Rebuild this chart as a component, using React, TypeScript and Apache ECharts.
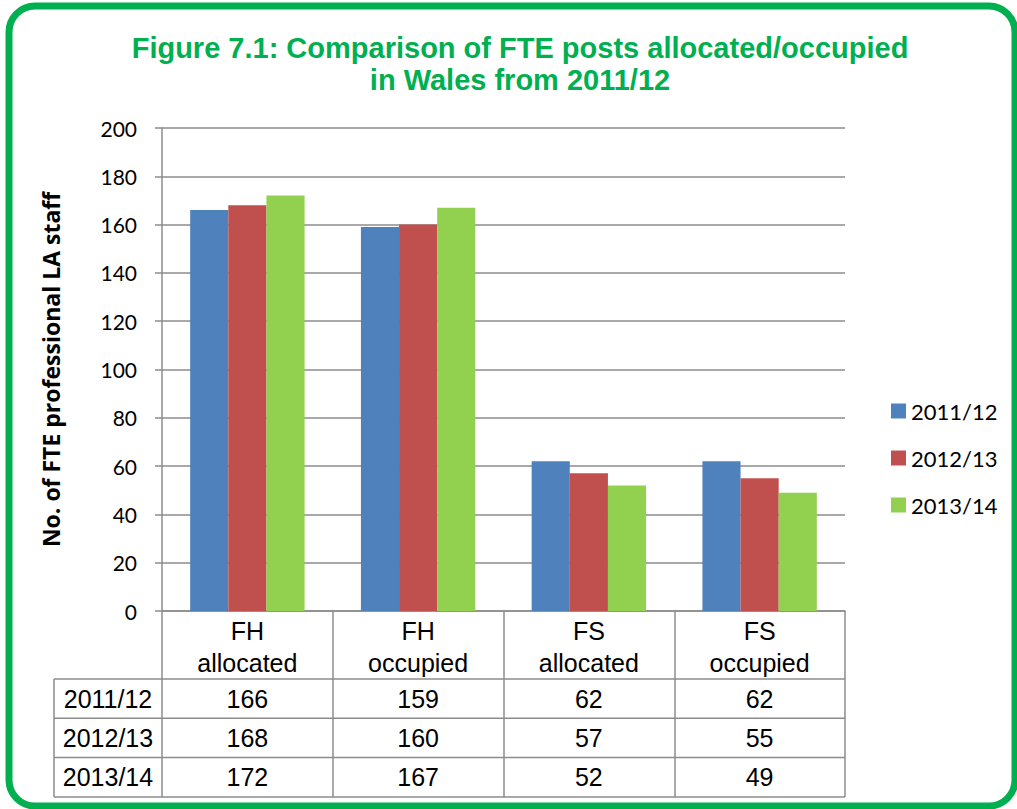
import React, { useEffect, useRef } from "react";
import * as echarts from "echarts";

const categories = ["FH\nallocated", "FH\noccupied", "FS\nallocated", "FS\noccupied"];
const seriesNames = ["2011/12", "2012/13", "2013/14"];
const values2011 = [166, 159, 62, 62];
const values2012 = [168, 160, 57, 55];
const values2013 = [172, 167, 52, 49];
const colors = ["#4F81BD", "#C0504D", "#92D050"];
const yTicks = { min: 0, max: 200, interval: 20 };

const W = 1017;
const H = 809;
const GRID_LEFT = 162;
const GRID_RIGHT_X = 845;
const GRID_TOP = 128;
const AXIS_Y = 611;
const HEADER_BOTTOM = 679;
const ROW_H = 39.3;
const TABLE_LEFT = 54;
const LINE_COLOR = "#8c8c8c";
const ARIAL = "'Liberation Sans', Arial, sans-serif";
const CAL = "Lato, 'Open Sans', sans-serif";

export default function App() {
  const ref = useRef<HTMLDivElement>(null);
  useEffect(() => {
    document.body.style.margin = "0";
    const chart = echarts.init(ref.current!, null, { renderer: "svg" });
    const allValues = [values2011, values2012, values2013];
    const tableBottom = HEADER_BOTTOM + ROW_H * 3;
    chart.setOption({
      animation: false,
      backgroundColor: "#fff",
      title: {
        text: "Figure 7.1: Comparison of FTE posts allocated/occupied\nin Wales from 2011/12",
        left: 515,
        top: 27,
        textAlign: "center",
        textStyle: {
          color: "#00B050",
          fontFamily: ARIAL,
          fontWeight: "bold",
          fontSize: 29,
          lineHeight: 32,
        },
      },
      legend: {
        orient: "vertical",
        left: 886,
        top: 395,
        itemWidth: 15,
        itemHeight: 15,
        itemGap: 25,
        icon: "rect",
        data: seriesNames,
        textStyle: { fontFamily: CAL, fontSize: 22, lineHeight: 22, color: "#000" },
      },
      grid: {
        left: GRID_LEFT,
        right: W - GRID_RIGHT_X,
        top: GRID_TOP,
        bottom: H - AXIS_Y,
        containLabel: false,
      },
      xAxis: {
        type: "category",
        data: categories,
        axisLine: { show: true, lineStyle: { color: LINE_COLOR, width: 1.5 } },
        axisTick: {
          show: true,
          alignWithLabel: false,
          length: tableBottom - AXIS_Y,
          lineStyle: { color: LINE_COLOR, width: 1.5 },
        },
        axisLabel: {
          interval: 0,
          margin: 4,
          color: "#000",
          fontFamily: ARIAL,
          fontSize: 25,
          lineHeight: 32,
        },
      },
      yAxis: {
        type: "value",
        min: yTicks.min,
        max: yTicks.max,
        interval: yTicks.interval,
        name: "No. of FTE professional LA staff",
        nameLocation: "middle",
        nameGap: 100,
        nameTextStyle: { fontFamily: "'Open Sans', Lato, sans-serif", fontWeight: "bold", fontSize: 23, color: "#000" },
        axisLine: { show: true, lineStyle: { color: LINE_COLOR, width: 1.5 } },
        axisTick: { show: true, length: 7, lineStyle: { color: LINE_COLOR, width: 1.5 } },
        splitLine: { show: true, lineStyle: { color: LINE_COLOR, width: 1.5 } },
        axisLabel: { margin: 25, color: "#000", fontFamily: CAL, fontSize: 21 },
      },
      series: seriesNames.map((name, i) => ({
        name,
        type: "bar",
        data: allValues[i],
        barGap: "0%",
        barCategoryGap: "33%",
        itemStyle: { color: colors[i] },
      })),
    });

    const graphics: any[] = [];
    graphics.push({
      type: "rect",
      shape: { x: 9, y: 6, width: 1006, height: 800, r: 26 },
      style: { fill: "none", stroke: "#00B050", lineWidth: 7 },
      z: 100,
    });
    for (let r = 0; r <= 3; r++) {
      const y = HEADER_BOTTOM + ROW_H * r;
      graphics.push({
        type: "line",
        shape: { x1: TABLE_LEFT, y1: y, x2: GRID_RIGHT_X, y2: y },
        style: { stroke: LINE_COLOR, lineWidth: 1.5 },
      });
    }
    graphics.push({
      type: "line",
      shape: { x1: TABLE_LEFT, y1: HEADER_BOTTOM, x2: TABLE_LEFT, y2: tableBottom },
      style: { stroke: LINE_COLOR, lineWidth: 1.5 },
    });
    seriesNames.forEach((name, r) => {
      const cy = HEADER_BOTTOM + ROW_H * r + ROW_H / 2;
      graphics.push({
        type: "text",
        x: (TABLE_LEFT + GRID_LEFT) / 2,
        y: cy,
        style: {
          text: name,
          fontFamily: ARIAL,
          fontSize: 25,
          fill: "#000",
          align: "center",
          verticalAlign: "middle",
        },
      });
      allValues[r].forEach((v, c) => {
        const px = chart.convertToPixel({ xAxisIndex: 0 }, c) as number;
        graphics.push({
          type: "text",
          x: px,
          y: cy,
          style: {
            text: String(v),
            fontFamily: ARIAL,
            fontSize: 25,
            fill: "#000",
            align: "center",
            verticalAlign: "middle",
          },
        });
      });
    });
    chart.setOption({ graphic: graphics });
    return () => chart.dispose();
  }, []);
  return <div ref={ref} style={{ width: W, height: H }} />;
}
